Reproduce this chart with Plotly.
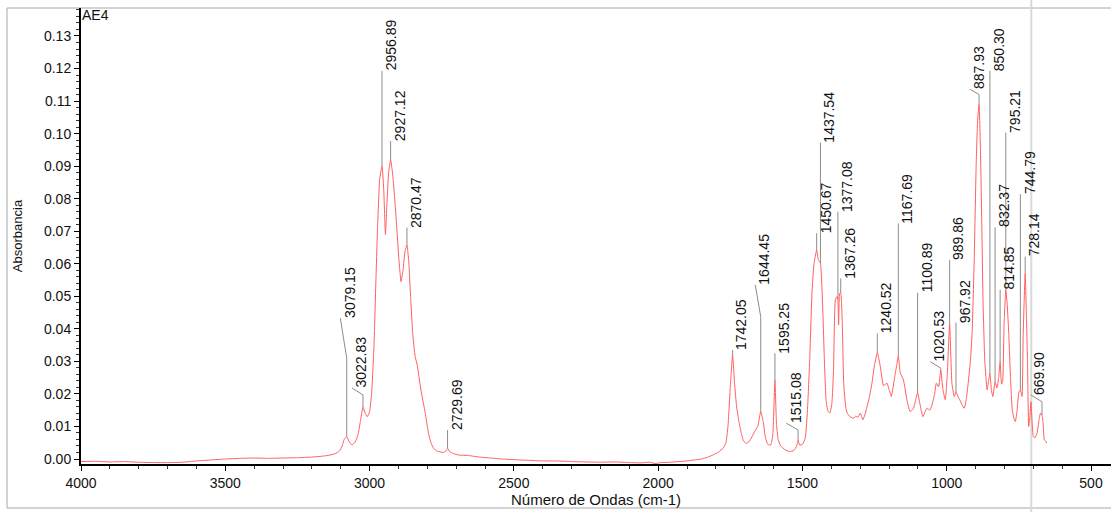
import plotly.graph_objects as go
import numpy as np

# ---------------- data ----------------
wavenumber = [
    4000, 3950, 3900, 3850, 3800, 3750, 3700, 3650, 3600, 3550, 3500, 3450, 3400, 3350, 3300,
    3250, 3200, 3150, 3120, 3105, 3095, 3088, 3079.15, 3070, 3061, 3050, 3040, 3032, 3022.83,
    3015, 3008, 3000, 2993, 2985, 2978, 2972, 2965, 2956.89, 2951, 2945, 2940, 2934, 2927.12,
    2920, 2912, 2905, 2898, 2891, 2884, 2877, 2870.47, 2864, 2858, 2850, 2842, 2835, 2822,
    2807, 2795, 2788, 2778, 2765, 2745, 2736, 2729.69, 2722, 2710, 2690, 2660, 2620, 2580,
    2540, 2500, 2450, 2400, 2350, 2300, 2250, 2200, 2150, 2100, 2060, 2030, 2010, 1990, 1960,
    1930, 1900, 1875, 1850, 1830, 1808, 1790, 1775, 1765, 1758, 1750, 1742.05, 1735, 1728,
    1720, 1712, 1704, 1695, 1686, 1675, 1665, 1655, 1644.45, 1636, 1628, 1620, 1610, 1603,
    1595.25, 1590, 1584, 1575, 1560, 1545, 1530, 1520, 1515.08, 1510, 1500, 1490, 1482, 1475,
    1467, 1460, 1450.67, 1445, 1437.54, 1432, 1428, 1424, 1418, 1412, 1405, 1398, 1392, 1386,
    1380, 1377.08, 1374.5, 1371, 1367.26, 1362, 1357, 1350, 1345, 1335, 1322, 1315, 1308, 1299,
    1291, 1284, 1276, 1268, 1259, 1250, 1240.52, 1230, 1219, 1207, 1200, 1192, 1180, 1173,
    1167.69, 1161, 1150, 1138, 1127, 1115, 1108, 1100.89, 1092, 1083, 1075, 1068, 1058, 1051,
    1042, 1036, 1028, 1020.53, 1013, 1005, 998, 989.86, 982, 974, 967.92, 960, 955, 946, 939,
    932, 927, 918, 912, 905, 898, 893, 887.93, 883, 879, 874, 868, 860, 855, 850.30, 845, 840,
    832.37, 826, 820, 814.85, 810, 806, 801, 795.21, 790, 785, 779, 773, 767, 762, 756, 750,
    744.79, 739, 735, 728.14, 724, 720, 716, 712, 708, 704, 700, 694, 687, 680, 675, 669.90,
    666, 662, 657, 653,
]
absorbance = [
    -0.0008, -0.0007, -0.0009, -0.0008, -0.0010, -0.0011, -0.0011, -0.0010, -0.0006, -0.0003,
    0.0000, 0.0002, 0.0003, 0.0002, 0.0003, 0.0004, 0.0006, 0.0010, 0.0016, 0.0024, 0.0040,
    0.0060, 0.0069, 0.0052, 0.0043, 0.0052, 0.0075, 0.0115, 0.0160, 0.0140, 0.0130, 0.0145,
    0.0200, 0.0340, 0.0550, 0.0720, 0.0860, 0.0901, 0.0830, 0.0690, 0.0780, 0.0880, 0.0919,
    0.0875, 0.0790, 0.0700, 0.0610, 0.0545, 0.0580, 0.0640, 0.0658, 0.0605, 0.0500, 0.0380,
    0.0315, 0.0289, 0.0212, 0.0141, 0.0075, 0.0052, 0.0032, 0.0024, 0.0020, 0.0024, 0.0033,
    0.0022, 0.0017, 0.0012, 0.0011, 0.0006, 0.0003, 0.0000, -0.0002, -0.0004, -0.0006, -0.0006,
    -0.0008, -0.0009, -0.0010, -0.0009, -0.0011, -0.0012, -0.0010, -0.0014, -0.0011, -0.0010,
    -0.0008, -0.0006, -0.0003, 0.0000, 0.0005, 0.0013, 0.0022, 0.0033, 0.0050, 0.0100, 0.0220,
    0.0320, 0.0230, 0.0160, 0.0115, 0.0080, 0.0055, 0.0048, 0.0052, 0.0068, 0.0085, 0.0100,
    0.0146, 0.0115, 0.0065, 0.0045, 0.0043, 0.0070, 0.0243, 0.0110, 0.0060, 0.0040, 0.0028,
    0.0023, 0.0026, 0.0040, 0.0059, 0.0043, 0.0045, 0.0065, 0.0160, 0.0300, 0.0509, 0.0600,
    0.0642, 0.0612, 0.0602, 0.0520, 0.0420, 0.0305, 0.0180, 0.0148, 0.0141, 0.0170, 0.0280,
    0.0489, 0.0499, 0.0490, 0.0412, 0.0509, 0.0510, 0.0420, 0.0233, 0.0160, 0.0141, 0.0130,
    0.0125, 0.0132, 0.0128, 0.0141, 0.0120, 0.0135, 0.0161, 0.0190, 0.0233, 0.0290, 0.0327,
    0.0284, 0.0225, 0.0233, 0.0215, 0.0192, 0.0253, 0.0290, 0.0317, 0.0265, 0.0243, 0.0182,
    0.0146, 0.0156, 0.0180, 0.0204, 0.0166, 0.0130, 0.0145, 0.0156, 0.0150, 0.0166, 0.0200,
    0.0233, 0.0222, 0.0274, 0.0212, 0.0182, 0.0260, 0.0417, 0.0233, 0.0192, 0.0207, 0.0190,
    0.0182, 0.0165, 0.0156, 0.0185, 0.0222, 0.0300, 0.0386, 0.0600, 0.0900, 0.1040, 0.1090,
    0.0950, 0.0750, 0.0480, 0.0300, 0.0212, 0.0240, 0.0264, 0.0210, 0.0192, 0.0238, 0.0218,
    0.0250, 0.0299, 0.0230, 0.0240, 0.0420, 0.0520, 0.0470, 0.0386, 0.0250, 0.0151, 0.0125,
    0.0115, 0.0150, 0.0205, 0.0212, 0.0192, 0.0380, 0.0571, 0.0450, 0.0300, 0.0100, 0.0130,
    0.0176, 0.0110, 0.0069, 0.0065, 0.0079, 0.0120, 0.0141, 0.0135, 0.0110, 0.0059, 0.0055,
    0.0049,
]

peak_labels = ["3079.15", "3022.83", "2956.89", "2927.12", "2870.47", "2729.69", "1742.05",
               "1644.45", "1595.25", "1515.08", "1450.67", "1437.54", "1377.08", "1367.26",
               "1240.52", "1167.69", "1100.89", "1020.53", "989.86", "967.92", "887.93",
               "850.30", "832.37", "814.85", "795.21", "744.79", "728.14", "669.90"]
peak_positions = [float(s) for s in peak_labels]

x_ticks = [4000, 3500, 3000, 2500, 2000, 1500, 1000, 500]
y_ticks = [round(0.01 * i, 2) for i in range(14)]

# ---------------- label layout (leader geometry) ----------------
# (kink height, top wavenumber, top height); top wavenumber None = straight leader
leader_layout = {
    "3079.15": (0.0310, 3101.4, 0.0433),
    "3022.83": (0.0197, 3060.9, 0.0218),
    "2956.89": (None, None, 0.1193),
    "2927.12": (None, None, 0.0977),
    "2870.47": (None, None, 0.0711),
    "2729.69": (None, None, 0.0089),
    "1742.05": (None, None, 0.0335),
    "1644.45": (0.0437, 1663.4, 0.0535),
    "1595.25": (None, None, 0.0325),
    "1515.08": (0.0089, 1555.9, 0.0110),
    "1450.67": (None, None, 0.0694),
    "1437.54": (None, None, 0.0972),
    "1377.08": (None, None, 0.0760),
    "1367.26": (None, None, 0.0555),
    "1240.52": (None, None, 0.0386),
    "1167.69": (None, None, 0.0724),
    "1100.89": (None, None, 0.0511),
    "1020.53": (0.0279, 1057.0, 0.0299),
    "989.86": (None, None, 0.0612),
    "967.92": (None, None, 0.0419),
    "887.93": (0.1120, 918.7, 0.1136),
    "850.30": (None, None, 0.1193),
    "832.37": (None, None, 0.0712),
    "814.85": (None, None, 0.0520),
    "795.21": (None, None, 0.1003),
    "744.79": (None, None, 0.0814),
    "728.14": (None, None, 0.0622),
    "669.90": (0.0176, 708.9, 0.0197),
}

FONT = "Liberation Sans, Arial, sans-serif"
wn_arr = np.array(wavenumber[::-1])
ab_arr = np.array(absorbance[::-1])

fig = go.Figure()

# leader lines
for lab, pos in zip(peak_labels, peak_positions):
    kink, top_wn, top_a = leader_layout[lab]
    base = float(np.interp(pos, wn_arr, ab_arr))
    if top_wn is None:
        xs, ys = [pos, pos], [base, top_a]
    else:
        xs, ys = [pos, pos, top_wn], [base, kink, top_a]
    fig.add_trace(go.Scatter(x=xs, y=ys, mode="lines",
                             line=dict(color="#8c8c8c", width=1),
                             hoverinfo="skip", showlegend=False))

# spectrum
fig.add_trace(go.Scatter(x=wavenumber, y=absorbance, mode="lines",
                         line=dict(color="#ff5f5f", width=1, shape="spline", smoothing=0.4),
                         showlegend=False, hoverinfo="x+y"))

annotations = []
for lab, pos in zip(peak_labels, peak_positions):
    kink, top_wn, top_a = leader_layout[lab]
    tx = pos if top_wn is None else top_wn
    annotations.append(dict(x=tx, y=top_a, xref="x", yref="y", text=lab, showarrow=False,
                            textangle=-90, xanchor="center", yanchor="bottom",
                            xshift=9, yshift=-1, borderpad=0,
                            font=dict(family=FONT, size=14, color="#111111")))

annotations.append(dict(x=0, y=1, xref="paper", yref="paper", text="AE4", showarrow=False,
                        xanchor="left", yanchor="top", xshift=0, yshift=2, borderpad=0,
                        font=dict(family=FONT, size=14, color="#111111")))

L, R, T, B = 81, 0, 8, 48
W, H = 1111, 512
pw, ph = W - L - R, H - T - B

shapes = [
    # outer frame
    dict(type="rect", xref="paper", yref="paper",
         x0=(7 - L) / pw, x1=1.05, y0=-(508 - (H - B)) / ph, y1=1.0,
         line=dict(color="#a8a8a8", width=1), fillcolor="rgba(0,0,0,0)", layer="below"),
    # cursor line
    dict(type="line", xref="x", yref="paper", x0=707, x1=707,
         y0=-(B + 2) / ph, y1=1 + (T + 2) / ph,
         line=dict(color="#d9d9d9", width=2), layer="below"),
]

fig.update_layout(
    width=W, height=H,
    margin=dict(l=L, r=R, t=T, b=B, pad=0),
    paper_bgcolor="white", plot_bgcolor="white",
    font=dict(family=FONT, size=14, color="#111111"),
    annotations=annotations,
    shapes=shapes,
    showlegend=False,
)

fig.update_xaxes(
    range=[4000, 4000 - pw / 0.28857], autorange=False,
    tickmode="array", tickvals=x_ticks, ticktext=[str(v) for v in x_ticks],
    ticks="outside", ticklen=5, tickwidth=1, tickcolor="black",
    minor=dict(dtick=100, tick0=0, ticks="outside", ticklen=3, tickcolor="#333333"),
    showline=True, linecolor="black", linewidth=2,
    showgrid=False, zeroline=False,
    tickfont=dict(family=FONT, size=14, color="#111111"),
    title=dict(text="Número de Ondas (cm-1)", font=dict(family=FONT, size=15, color="#111111"),
               standoff=3),
)
fig.update_yaxes(
    range=[-0.001537, 0.1386], autorange=False,
    tickmode="array", tickvals=y_ticks, ticktext=[f"{v:.2f}" for v in y_ticks],
    ticks="outside", ticklen=5, tickwidth=1, tickcolor="black",
    minor=dict(dtick=0.002, tick0=0, ticks="outside", ticklen=3, tickcolor="#333333"),
    showline=True, linecolor="black", linewidth=2,
    showgrid=False, zeroline=False,
    tickfont=dict(family=FONT, size=14, color="#111111"),
    title=dict(text="Absorbancia", font=dict(family=FONT, size=13, color="#111111"),
               standoff=18),
)

fig.write_html("out.html")
